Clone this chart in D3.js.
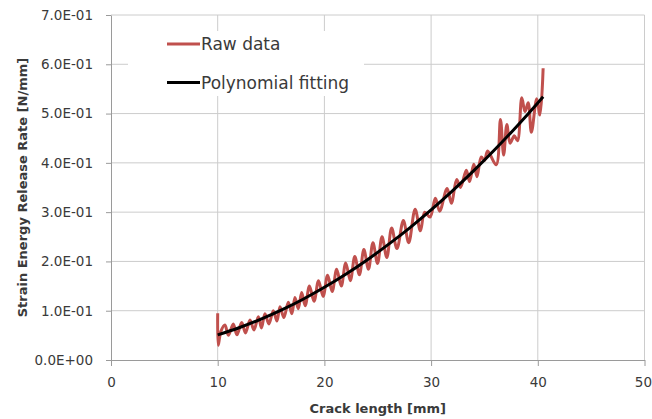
<!DOCTYPE html>
<html>
<head>
<meta charset="utf-8">
<script src="https://cdn.jsdelivr.net/npm/d3@7"></script>
<style>
  body { margin: 0; background: #fff; }
  text { font-family: "DejaVu Sans", sans-serif; fill: #3a3a3a; }
</style>
</head>
<body>
<div id="chart"></div>
<script>
// tick values
const xTicks = [0, 10, 20, 30, 40, 50];
const yTicks = [0, 0.1, 0.2, 0.3, 0.4, 0.5, 0.6, 0.7];

// raw measurements (crack length mm, G N/mm)
const rawX = [10.0, 10.05, 10.3, 10.68, 11.0, 11.46, 11.8, 12.25, 12.6, 13.03, 13.4, 13.81, 14.1, 14.43,
  14.8, 15.21, 15.55, 15.84, 16.2, 16.62, 16.95, 17.24, 17.55, 17.87, 18.2, 18.6, 19.03, 19.45, 19.88,
  20.3, 20.73, 21.15, 21.58, 22.0, 22.43, 22.85, 23.28, 23.7, 24.13, 24.55, 24.98, 25.4, 25.85, 26.3,
  26.8, 27.4, 27.9, 28.5, 29.0, 29.4, 29.9, 30.4, 30.8, 31.5, 31.9, 32.4, 32.75, 33.3, 33.6, 34.0, 34.3,
  34.7, 35.0, 35.3, 36.1, 36.5, 36.8, 37.1, 37.4, 37.8, 38.1, 38.5, 38.8, 39.1, 39.4, 39.9, 40.2, 40.5];
const rawY = [0.095, 0.030, 0.058, 0.071, 0.050, 0.073, 0.051, 0.076, 0.055, 0.081, 0.061, 0.088, 0.065, 0.094,
  0.073, 0.100, 0.079, 0.108, 0.086, 0.117, 0.094, 0.127, 0.104, 0.137, 0.110, 0.150, 0.119, 0.161, 0.129,
  0.172, 0.139, 0.184, 0.150, 0.197, 0.161, 0.210, 0.173, 0.224, 0.184, 0.238, 0.196, 0.250, 0.208, 0.268,
  0.226, 0.283, 0.238, 0.306, 0.262, 0.300, 0.290, 0.328, 0.302, 0.348, 0.318, 0.366, 0.350, 0.385, 0.362, 0.397, 0.372,
  0.412, 0.405, 0.424, 0.396, 0.488, 0.416, 0.478, 0.440, 0.455, 0.445, 0.532, 0.504, 0.522, 0.462, 0.530, 0.497, 0.592];

// polynomial fit curve
const fitX = [10, 12, 14, 16, 18, 20, 22, 24, 26, 28, 30, 32, 34, 36, 38, 40, 40.5];
const fitY = [0.051, 0.0654, 0.0823, 0.1016, 0.1233, 0.1475, 0.1740, 0.2030, 0.2345, 0.2682,
  0.3044, 0.3431, 0.3841, 0.4275, 0.4734, 0.5216, 0.534];

const seriesNames = ["Raw data", "Polynomial fitting"];
const seriesColors = ["#c0504d", "#000000"];

const width = 652, height = 419;
const margin = { top: 15, right: 7.5, bottom: 59, left: 111 };

const svg = d3.select("#chart").append("svg")
  .attr("width", width)
  .attr("height", height);

const x = d3.scaleLinear().domain([0, 50]).range([margin.left, width - margin.right]);
const y = d3.scaleLinear().domain([0, 0.7]).range([height - margin.bottom, margin.top]);

// Excel style exponent labels, e.g. 7.0E-01
function expFormat(d) {
  const parts = d.toExponential(1).split("e");
  const sign = parts[1][0];
  const digits = parts[1].slice(1).padStart(2, "0");
  return parts[0] + "E" + sign + digits;
}

// gridlines
svg.append("g")
  .selectAll("line")
  .data(yTicks.slice(1))
  .join("line")
  .attr("x1", x(0)).attr("x2", x(50))
  .attr("y1", d => y(d)).attr("y2", d => y(d))
  .attr("stroke", "#cccccc");

svg.append("g")
  .selectAll("line")
  .data(xTicks.slice(1))
  .join("line")
  .attr("x1", d => x(d)).attr("x2", d => x(d))
  .attr("y1", y(0)).attr("y2", y(0.7))
  .attr("stroke", "#cccccc");

// axes
const xAxis = svg.append("g")
  .attr("transform", `translate(0,${y(0)})`)
  .call(d3.axisBottom(x).tickValues(xTicks).tickSize(6).tickPadding(11).tickSizeOuter(0));

const yAxis = svg.append("g")
  .attr("transform", `translate(${x(0)},0)`)
  .call(d3.axisLeft(y).tickValues(yTicks).tickFormat(expFormat).tickSize(5).tickPadding(13).tickSizeOuter(0));

[xAxis, yAxis].forEach(a => {
  a.selectAll("path, line").attr("stroke", "#9a9a9a");
  a.selectAll("text").style("font-size", "13.5px").style("fill", "#3a3a3a")
    .style("font-family", '"DejaVu Sans", sans-serif');
});

// last x label is pulled in so it stays inside the page
xAxis.selectAll(".tick text")
  .filter(d => d === 50)
  .attr("text-anchor", "end")
  .attr("dx", 7);

// axis titles
svg.append("text")
  .attr("x", (x(0) + x(50)) / 2)
  .attr("y", 413)
  .attr("text-anchor", "middle")
  .style("font-size", "13px")
  .style("font-weight", "bold")
  .text("Crack length [mm]");

svg.append("text")
  .attr("transform", `translate(27,${(y(0) + y(0.7)) / 2}) rotate(-90)`)
  .attr("text-anchor", "middle")
  .style("font-size", "13px")
  .style("font-weight", "bold")
  .text("Strain Energy Release Rate [N/mm]");

// legend box sits over the gridlines
const legend = svg.append("g");
legend.append("rect")
  .attr("x", 128).attr("y", 31)
  .attr("width", 236).attr("height", 65)
  .attr("fill", "#fff");

// series
const rawPts = rawX.map((v, i) => [v, rawY[i]]);
const fitPts = fitX.map((v, i) => [v, fitY[i]]);

svg.append("path")
  .datum(rawPts)
  .attr("fill", "none")
  .attr("stroke", seriesColors[0])
  .attr("stroke-width", 3)
  .attr("stroke-linejoin", "round")
  .attr("d", d3.line().x(d => x(d[0])).y(d => y(d[1])).curve(d3.curveCatmullRom.alpha(0.5)));

svg.append("path")
  .datum(fitPts)
  .attr("fill", "none")
  .attr("stroke", seriesColors[1])
  .attr("stroke-width", 3)
  .attr("d", d3.line().x(d => x(d[0])).y(d => y(d[1])).curve(d3.curveMonotoneX));

const items = legend.selectAll(".item")
  .data(seriesNames)
  .join("g")
  .attr("class", "item")
  .attr("transform", (d, i) => `translate(167,${44 + i * 38.5})`);

items.append("line")
  .attr("x1", 0).attr("x2", 33)
  .attr("stroke", (d, i) => seriesColors[i])
  .attr("stroke-width", 3);

items.append("text")
  .attr("x", 34)
  .attr("y", 6)
  .style("font-size", "17px")
  .text(d => d);
</script>
</body>
</html>
